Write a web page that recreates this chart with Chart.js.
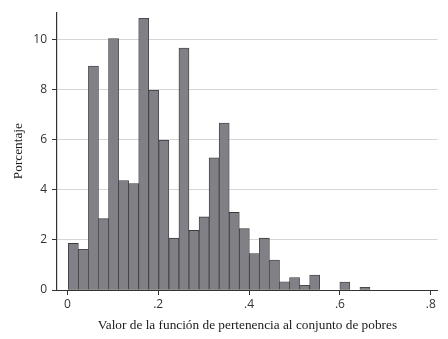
<!DOCTYPE html>
<html>
<head>
<meta charset="utf-8">
<script src="https://cdn.jsdelivr.net/npm/chart.js@4"></script>
<style>
  html, body { margin: 0; padding: 0; background: #fff; }
  #wrap { width: 448px; height: 339px; position: relative; }
</style>
</head>
<body>
<div id="wrap"><canvas id="histChart"></canvas></div>
<script>
// Histogram: porcentaje por valor de la función de pertenencia
const binCenters = [
  0.0133, 0.0354, 0.0575, 0.0797, 0.1018, 0.1239, 0.1461, 0.1682, 0.1903, 0.2124,
  0.2346, 0.2567, 0.2788, 0.3010, 0.3231, 0.3452, 0.3674, 0.3895, 0.4116, 0.4337,
  0.4559, 0.4780, 0.5001, 0.5223, 0.5444, 0.5665, 0.5887, 0.6108, 0.6329, 0.6550
];
const percentages = [
  1.86, 1.63, 8.95, 2.85, 10.05, 4.37, 4.25, 10.86, 7.98, 5.98,
  2.07, 9.67, 2.38, 2.92, 5.28, 6.67, 3.10, 2.45, 1.46, 2.07,
  1.20, 0.33, 0.50, 0.19, 0.60, null, null, 0.32, null, 0.11
];
const yTicks = [0, 2, 4, 6, 8, 10];
const xTicks = [0, 0.2, 0.4, 0.6, 0.8];

const axisColor = '#333333';
const tickFont = { family: 'Open Sans', size: 12 };
const titleFont = { family: 'Liberation Serif', size: 13.3 };

new Chart(document.getElementById('histChart'), {
    type: 'bar',
    data: {
        datasets: [
            {
                label: 'Porcentaje',
                data: binCenters.map((x, i) => ({ x: x, y: percentages[i] })),
                backgroundColor: '#808086',
                borderColor: '#3a3a3a',
                borderWidth: 0.8,
                borderSkipped: false,
                barPercentage: 1,
                categoryPercentage: 1
            }
        ]
    },
    options: {
        responsive: true,
        maintainAspectRatio: false,
        animation: false,
        layout: {
            padding: { top: 12, right: 10.3, left: 0, bottom: 0 }
        },
        plugins: {
            legend: { display: false },
            tooltip: { enabled: false }
        },
        scales: {
            x: {
                type: 'linear',
                min: -0.0227,
                max: 0.8151,
                offset: false,
                afterFit: s => { s.height = 49; },
                afterBuildTicks: s => { s.ticks = xTicks.map(v => ({ value: v })); },
                border: { display: true, color: axisColor, width: 1 },
                grid: {
                    offset: false,
                    drawOnChartArea: false,
                    drawTicks: true,
                    tickLength: 5,
                    tickColor: axisColor
                },
                ticks: {
                    color: '#333',
                    font: tickFont,
                    padding: 2,
                    maxRotation: 0,
                    callback: v => v === 0 ? '0' : v.toFixed(1).replace(/^0/, '')
                },
                title: {
                    display: true,
                    text: 'Valor de la función de pertenencia al conjunto de pobres',
                    color: '#1a1a1a',
                    font: titleFont,
                    padding: { top: 0, bottom: 6 }
                }
            },
            y: {
                min: 0,
                max: 11.1,
                afterFit: s => { s.width = 57; },
                afterBuildTicks: s => { s.ticks = yTicks.map(v => ({ value: v })); },
                border: { display: true, color: axisColor, width: 1.2 },
                grid: {
                    color: '#d6d6d6',
                    lineWidth: 1,
                    drawTicks: true,
                    tickLength: 5,
                    tickColor: axisColor
                },
                ticks: {
                    color: '#333',
                    font: tickFont,
                    padding: 5
                },
                title: {
                    display: true,
                    text: 'Porcentaje',
                    color: '#1a1a1a',
                    font: titleFont,
                    padding: { top: 11, bottom: 0 }
                }
            }
        }
    }
});
</script>
</body>
</html>
